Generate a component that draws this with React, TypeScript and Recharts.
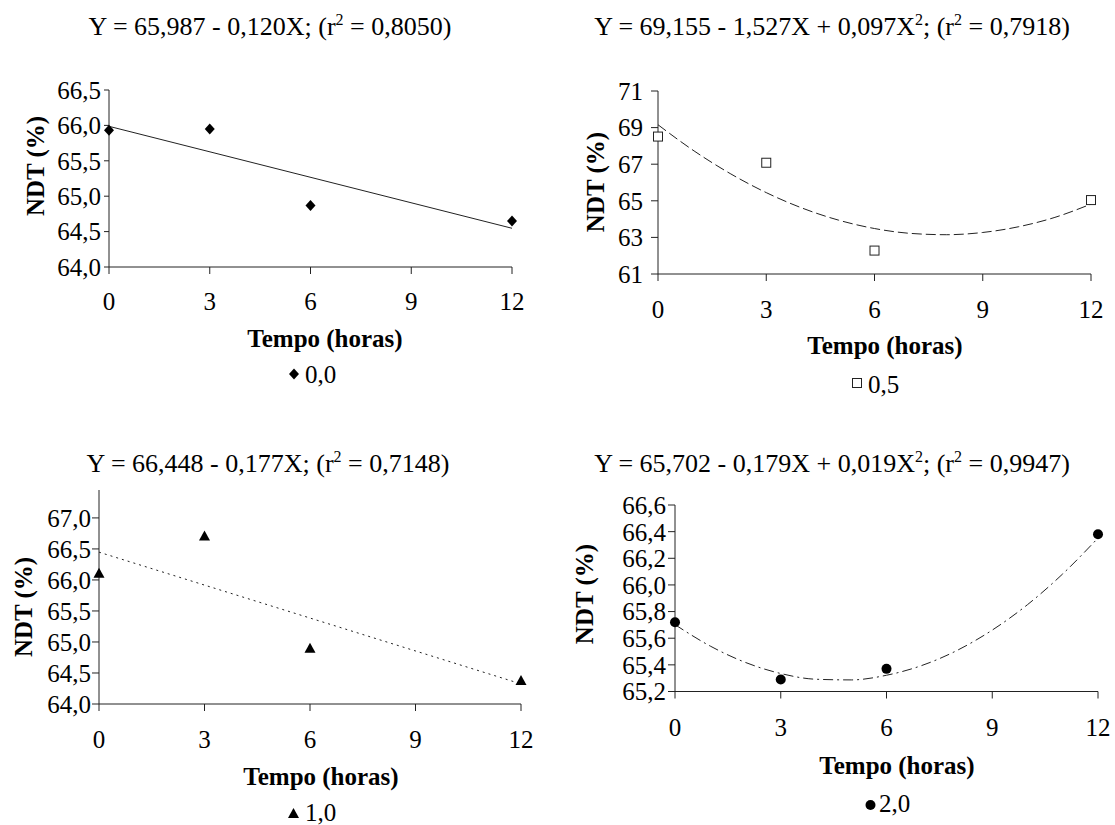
import React from 'react';
import { ComposedChart, Scatter, Line, XAxis, YAxis } from 'recharts';

// ---- shared ----
const timeHours = [0, 3, 6, 12];
const xTicks = [0, 3, 6, 9, 12];
const curveX = [0, 1, 2, 3, 4, 5, 6, 7, 8, 9, 10, 11, 12];
const lineX = [0, 12];

// ---- 0,0 ----
const ndt00 = [65.93, 65.95, 64.87, 64.65];
const fit00 = [65.987, 64.547];
const yTicks00 = [64, 64.5, 65, 65.5, 66, 66.5];
const yLabels00 = ['64,0', '64,5', '65,0', '65,5', '66,0', '66,5'];

// ---- 0,5 ----
const ndt05 = [68.51, 67.08, 62.28, 65.04];
const fit05 = [69.155, 67.725, 66.489, 65.447, 64.599, 63.945, 63.485, 63.219, 63.147, 63.269, 63.585, 64.095, 64.82];
const yTicks05 = [61, 63, 65, 67, 69, 71];
const yLabels05 = ['61', '63', '65', '67', '69', '71'];

// ---- 1,0 ----
const ndt10 = [66.1, 66.7, 64.89, 64.37];
const fit10 = [66.448, 64.324];
const yTicks10 = [64, 64.5, 65, 65.5, 66, 66.5, 67];
const yLabels10 = ['64,0', '64,5', '65,0', '65,5', '66,0', '66,5', '67,0'];

// ---- 2,0 ----
const ndt20 = [65.72, 65.29, 65.37, 66.38];
const fit20 = [65.702, 65.541, 65.418, 65.335, 65.292, 65.287, 65.322, 65.395, 65.508, 65.661, 65.852, 66.083, 66.352];
const yTicks20 = [65.2, 65.4, 65.6, 65.8, 66.0, 66.2, 66.4, 66.6];
const yLabels20 = ['65,2', '65,4', '65,6', '65,8', '66,0', '66,2', '66,4', '66,6'];

const FONT = "'Liberation Serif', 'Times New Roman', serif";
const FS = 25;
const TFS = 26;
const SUP = 16;
const INK = '#000';
const AXIS = '#222';
const TXT = { fontFamily: FONT, fontSize: FS };

const toPoints = (xs: number[], ys: number[]) => xs.map((x, i) => ({ x, y: ys[i] }));

const Diamond = (p: any) => (
  <polygon points={`${p.cx},${p.cy - 5.5} ${p.cx + 5},${p.cy} ${p.cx},${p.cy + 5.5} ${p.cx - 5},${p.cy}`} fill={INK} />
);
const Square = (p: any) => (
  <rect x={p.cx - 4.5} y={p.cy - 4.5} width={9} height={9} fill="#fff" stroke={AXIS} strokeWidth={1} />
);
const Triangle = (p: any) => (
  <polygon points={`${p.cx},${p.cy - 6} ${p.cx + 5.5},${p.cy + 4} ${p.cx - 5.5},${p.cy + 4}`} fill={INK} />
);
const Dot = (p: any) => <circle cx={p.cx} cy={p.cy} r={5} fill={INK} />;

type PanelCfg = {
  box: { L: number; T: number; R: number; B: number };
  pts: number[];
  fitX: number[];
  fit: number[];
  dash?: string;
  shape: (p: any) => React.ReactElement;
  yDomain: [number, number];
  yTicks: number[];
  yLabels: string[];
  yTickSize: number;
  yTickMargin: number;
  xTickMargin: number;
  curve: boolean;
};

const YW = 80;
const MT = 30;
const MR = 40;
const XH = 60;

function Panel({ cfg }: { cfg: PanelCfg }) {
  const { L, T, R, B } = cfg.box;
  const width = R - L + YW + MR;
  const height = B - T + MT + XH;
  const fmt = (v: number) => {
    const i = cfg.yTicks.findIndex((t) => Math.abs(t - v) < 1e-6);
    return i >= 0 ? cfg.yLabels[i] : String(v);
  };
  return (
    <div style={{ position: 'absolute', left: L - YW, top: T - MT, width, height }}>
      <ComposedChart width={width} height={height} margin={{ top: MT, right: MR, bottom: 0, left: 0 }} style={{ fontFamily: FONT }}>
        <XAxis
          dataKey="x"
          type="number"
          domain={[0, 12]}
          ticks={xTicks}
          interval={0}
          height={XH}
          tickSize={7}
          tickMargin={cfg.xTickMargin}
          axisLine={{ stroke: AXIS, strokeWidth: 1 }}
          tickLine={{ stroke: AXIS, strokeWidth: 1 }}
          tick={{ fill: INK, fontSize: FS, fontFamily: FONT, style: TXT }}
        />
        <YAxis
          dataKey="y"
          type="number"
          domain={cfg.yDomain}
          ticks={cfg.yTicks}
          interval={0}
          width={YW}
          tickSize={cfg.yTickSize}
          tickMargin={cfg.yTickMargin}
          allowDataOverflow
          tickFormatter={fmt}
          axisLine={{ stroke: AXIS, strokeWidth: 1 }}
          tickLine={{ stroke: AXIS, strokeWidth: 1 }}
          tick={{ fill: INK, fontSize: FS, fontFamily: FONT, style: TXT }}
        />
        <Line
          data={toPoints(cfg.fitX, cfg.fit)}
          dataKey="y"
          type={cfg.curve ? 'monotone' : 'linear'}
          stroke={AXIS}
          strokeWidth={1}
          strokeDasharray={cfg.dash}
          dot={false}
          activeDot={false}
          isAnimationActive={false}
        />
        <Scatter data={toPoints(timeHours, cfg.pts)} dataKey="y" shape={cfg.shape} isAnimationActive={false} />
      </ComposedChart>
    </div>
  );
}

const panels: PanelCfg[] = [
  {
    box: { L: 109, T: 89.5, R: 512, B: 266.5 },
    pts: ndt00, fitX: lineX, fit: fit00, shape: Diamond,
    yDomain: [64, 66.5], yTicks: yTicks00, yLabels: yLabels00,
    yTickSize: 5, yTickMargin: 3, xTickMargin: 18, curve: false,
  },
  {
    box: { L: 658, T: 90.5, R: 1091, B: 273.5 },
    pts: ndt05, fitX: curveX, fit: fit05, dash: '10 4', shape: Square,
    yDomain: [61, 71], yTicks: yTicks05, yLabels: yLabels05,
    yTickSize: 7, yTickMargin: 8, xTickMargin: 19, curve: true,
  },
  {
    box: { L: 99, T: 489.5, R: 521, B: 703.5 },
    pts: ndt10, fitX: lineX, fit: fit10, dash: '2 4', shape: Triangle,
    yDomain: [64, 67.45], yTicks: yTicks10, yLabels: yLabels10,
    yTickSize: 7, yTickMargin: 1, xTickMargin: 19, curve: false,
  },
  {
    box: { L: 675, T: 505, R: 1098, B: 691.5 },
    pts: ndt20, fitX: curveX, fit: fit20, dash: '10 4 2 4', shape: Dot,
    yDomain: [65.2, 66.6], yTicks: yTicks20, yLabels: yLabels20,
    yTickSize: 7, yTickMargin: 2, xTickMargin: 20, curve: true,
  },
];

const titles = [
  { pre: 'Y = 65,987 - 0,120X; (r', post: ' = 0,8050)', sup: '', mid: '' },
  { pre: 'Y = 69,155 - 1,527X + 0,097X', sup: '2', mid: '; (r', post: ' = 0,7918)' },
  { pre: 'Y = 66,448 - 0,177X; (r', post: ' = 0,7148)', sup: '', mid: '' },
  { pre: 'Y = 65,702 - 0,179X + 0,019X', sup: '2', mid: '; (r', post: ' = 0,9947)' },
];
const legendLabels = ['0,0', '0,5', '1,0', '2,0'];
const xTitle = 'Tempo (horas)';
const yTitle = 'NDT (%)';

// overlay text anchors (page coordinates)
const titlePos = [[270, 35], [832, 34.5], [268, 471.5], [832, 471.5]];
const yTitlePos = [[36, 166], [596, 182], [24, 607], [585, 594]];
const xTitlePos = [[325, 346.5], [885, 354], [321, 785], [897, 773.5]];
const legendPos = [[294, 374, 305, 383], [857, 383, 868, 393], [293.5, 814, 305, 821], [870.5, 805, 879, 812]];

function Title({ i }: { i: number }) {
  const t = titles[i];
  const [x, y] = titlePos[i];
  return (
    <text x={x} y={y} textAnchor="middle" style={{ fontFamily: FONT, fontSize: TFS }} fill={INK}>
      {t.sup ? (
        <>
          <tspan>{t.pre}</tspan>
          <tspan dy={-10} style={{ fontSize: SUP }}>{t.sup}</tspan>
          <tspan dy={10}>{t.mid}</tspan>
          <tspan dy={-10} style={{ fontSize: SUP }}>2</tspan>
          <tspan dy={10}>{t.post}</tspan>
        </>
      ) : (
        <>
          <tspan>{t.pre}</tspan>
          <tspan dy={-10} style={{ fontSize: SUP }}>2</tspan>
          <tspan dy={10}>{t.post}</tspan>
        </>
      )}
    </text>
  );
}

function LegendMark({ i, x, y }: { i: number; x: number; y: number }) {
  if (i === 0) return <Diamond cx={x} cy={y} />;
  if (i === 1) return <Square cx={x} cy={y} />;
  if (i === 2) return <Triangle cx={x} cy={y} />;
  return <Dot cx={x} cy={y} />;
}

export default function App() {
  return (
    <div style={{ position: 'absolute', left: 0, top: 0, width: 1115, height: 825, background: '#fff', overflow: 'hidden', fontFamily: FONT }}>
      {panels.map((p, i) => (
        <Panel key={i} cfg={p} />
      ))}
      <svg width={1115} height={825} style={{ position: 'absolute', left: 0, top: 0, pointerEvents: 'none', fontFamily: FONT }}>
        {panels.map((_, i) => (
          <g key={i}>
            <Title i={i} />
            <text
              x={yTitlePos[i][0]}
              y={yTitlePos[i][1]}
              transform={`rotate(-90 ${yTitlePos[i][0]} ${yTitlePos[i][1]})`}
              textAnchor="middle"
              dy="0.3em"
              style={{ ...TXT, fontWeight: 'bold' }}
              fill={INK}
            >
              {yTitle}
            </text>
            <text x={xTitlePos[i][0]} y={xTitlePos[i][1]} textAnchor="middle" style={{ ...TXT, fontWeight: 'bold' }} fill={INK}>
              {xTitle}
            </text>
            <LegendMark i={i} x={legendPos[i][0]} y={legendPos[i][1]} />
            <text x={legendPos[i][2]} y={legendPos[i][3]} style={TXT} fill={INK}>
              {legendLabels[i]}
            </text>
          </g>
        ))}
      </svg>
    </div>
  );
}
